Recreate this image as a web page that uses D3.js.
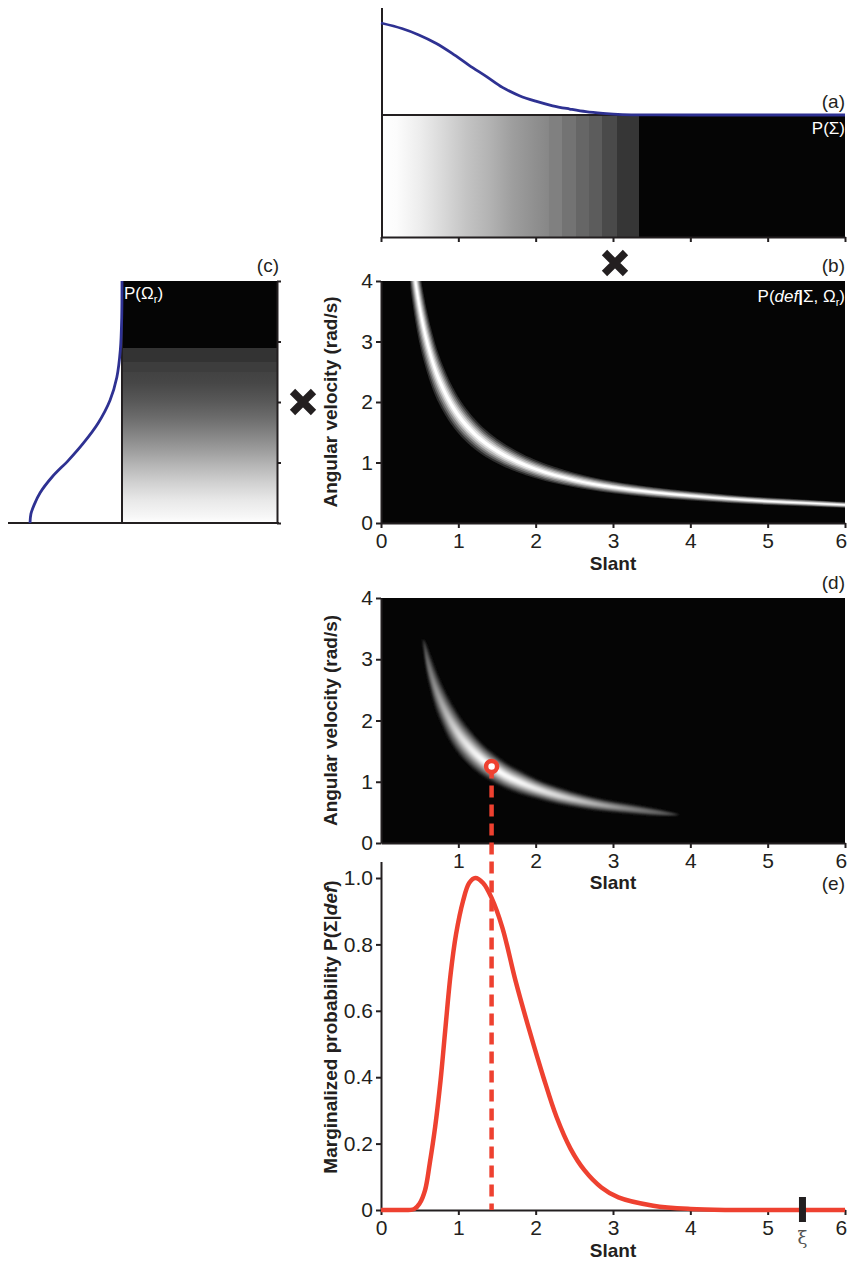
<!DOCTYPE html>
<html>
<head>
<meta charset="utf-8">
<script src="https://cdn.jsdelivr.net/npm/d3@7"></script>
<style>
  body { margin: 0; background: #ffffff; }
  svg { display: block; font-family: "Liberation Sans", Arial, Helvetica, sans-serif; }
</style>
</head>
<body>
<svg id="fig" width="847" height="1265"></svg>
<script>
// ---------- data ----------
// (a) prior over slant P(Σ)
const priorSlant  = [0, 0.27, 0.49, 0.71, 0.92, 1.14, 1.36, 1.57, 1.79, 2.0, 2.22, 2.44, 2.65, 2.87, 3.12, 3.5, 4, 5, 6];
const priorSlantP = [1.0, 0.94, 0.87, 0.78, 0.67, 0.54, 0.42, 0.30, 0.21, 0.15, 0.10, 0.065, 0.036, 0.018, 0.005, 0.001, 0, 0, 0];
// (a) image strip of P(Σ): grey level at slant stops (repeated stops give the banding)
const stripSlant  = [0, 0.2, 0.5, 0.8, 1.1, 1.4, 1.7, 2.0, 2.17, 2.17, 2.34, 2.34, 2.52, 2.52, 2.69, 2.69, 2.86, 2.86, 3.05, 3.05, 3.34, 3.34, 6];
const stripSlantG = [1, 0.99, 0.93, 0.85, 0.77, 0.7, 0.62, 0.56, 0.53, 0.5, 0.5, 0.45, 0.45, 0.4, 0.4, 0.36, 0.36, 0.29, 0.29, 0.21, 0.21, 0.02, 0.02];

// (c) prior over angular velocity P(Ωr)
const priorOmega  = [0, 0.15, 0.3, 0.5, 0.76, 1.04, 1.32, 1.65, 2.03, 2.41, 2.86, 3.4, 4];
const priorOmegaP = [1.0, 0.99, 0.955, 0.89, 0.76, 0.58, 0.42, 0.26, 0.13, 0.056, 0.018, 0.003, 0];
// (c) image strip of P(Ωr)
const stripOmega  = [0, 0.1, 0.38, 0.66, 0.93, 1.21, 1.49, 1.75, 2.03, 2.31, 2.5, 2.5, 2.66, 2.66, 2.89, 2.89, 4];
const stripOmegaG = [1, 0.97, 0.91, 0.82, 0.72, 0.61, 0.51, 0.42, 0.34, 0.28, 0.26, 0.24, 0.24, 0.2, 0.2, 0.02, 0.02];

// (b) likelihood ridge P(def|Σ, Ωr)
const ridgeSlant = [0.38, 0.42, 0.46, 0.5, 0.55, 0.6, 0.65, 0.7, 0.8, 0.9, 1.0, 1.15, 1.3, 1.5, 1.75, 2.0, 2.5, 3.0, 3.5, 4.0, 4.5, 5.0, 5.5, 6.05];
const ridgeOmega = [4.68, 4.24, 3.87, 3.56, 3.24, 2.97, 2.74, 2.54, 2.23, 1.98, 1.78, 1.55, 1.37, 1.19, 1.02, 0.89, 0.71, 0.59, 0.51, 0.45, 0.40, 0.36, 0.33, 0.295];
const ridgeSpread = 0.17;   // relative half-width of the ridge in Ωr

// (d) posterior crescent
const postSlant  = [0.54, 0.58, 0.63, 0.7, 0.8, 0.9, 1.0, 1.15, 1.3, 1.45, 1.6, 1.8, 2.0, 2.3, 2.6, 2.9, 3.2, 3.5, 3.7, 3.86];
const postOmega  = [3.33, 3.07, 2.83, 2.54, 2.23, 1.98, 1.78, 1.55, 1.37, 1.23, 1.11, 0.99, 0.89, 0.77, 0.68, 0.61, 0.56, 0.51, 0.48, 0.46];
const postSpread = [0, 0.07, 0.1, 0.13, 0.15, 0.17, 0.18, 0.19, 0.19, 0.19, 0.19, 0.19, 0.18, 0.18, 0.17, 0.16, 0.15, 0.13, 0.09, 0];
const postPeak   = [0.3, 0.42, 0.5, 0.58, 0.68, 0.77, 0.85, 0.93, 0.98, 1.0, 0.99, 0.97, 0.93, 0.86, 0.77, 0.67, 0.56, 0.46, 0.38, 0.3];
const mapSlant = 1.43, mapOmega = 1.25;   // maximum a posteriori estimate

// (e) marginalized probability P(Σ|def)
const margSlant = [0, 0.2, 0.43, 0.5, 0.57, 0.63, 0.7, 0.77, 0.83, 0.9, 0.97, 1.06, 1.14, 1.22, 1.32, 1.43, 1.57, 1.74, 1.92, 2.1, 2.27, 2.45, 2.63, 2.85, 3.07, 3.52, 4.0, 4.5, 5.0, 5.5, 6.0];
const margP     = [0, 0, 0.003, 0.02, 0.06, 0.14, 0.25, 0.39, 0.54, 0.71, 0.83, 0.93, 0.985, 1.0, 0.985, 0.94, 0.85, 0.69, 0.54, 0.40, 0.28, 0.185, 0.12, 0.068, 0.038, 0.013, 0.003, 0, 0, 0, 0];
const xiSlant = 5.45;

const slantTicks = [0, 1, 2, 3, 4, 5, 6];
const omegaTicks = [0, 1, 2, 3, 4];
const probTicks  = [0, 0.2, 0.4, 0.6, 0.8, 1.0];

// ---------- setup ----------
const INK = "#231f20", BLACK = "#050505", BLUE = "#2e3192", RED = "#ee4130";
const TICK_FONT = 21, TITLE_FONT = 19, TAG_FONT = 19, INSET_FONT = 17;
const grey = v => { const c = Math.round(255 * v); return d3.rgb(c, c, c).formatHex(); };
const smooth = d3.curveCatmullRom.alpha(0.5);

const svg = d3.select("#fig");
const defs = svg.append("defs");

const x  = d3.scaleLinear([0, 6], [381, 845]);
const yB = d3.scaleLinear([0, 4], [523, 281]);
const yD = d3.scaleLinear([0, 4], [843, 598]);
const yE = d3.scaleLinear([0, 1.05], [1210, 861.4]);
const pA = d3.scaleLinear([0, 1], [115, 23]);
const pC = d3.scaleLinear([0, 1], [122, 30]);

function styleAxis(g) {
  g.attr("font-size", null).attr("font-family", null);
  g.select(".domain").attr("stroke", INK).attr("stroke-width", 2);
  g.selectAll(".tick line").attr("stroke", INK).attr("stroke-width", 2);
  g.selectAll(".tick text").attr("fill", INK).style("font-size", TICK_FONT + "px");
  // keep the last slant label inside the page edge
  g.selectAll(".tick text").filter(d => d === 6).attr("dx", "-0.2em");
}
function label(txt, px, py, opts) {
  const o = Object.assign({anchor: "end", size: TAG_FONT, fill: INK, weight: "normal"}, opts || {});
  return svg.append("text").attr("x", px).attr("y", py).attr("text-anchor", o.anchor)
    .attr("fill", o.fill).attr("font-weight", o.weight).style("font-size", o.size + "px").text(txt);
}
function crossMark(cx, cy) {
  svg.append("path").attr("d", "M-10.5,-10.5L10.5,10.5M10.5,-10.5L-10.5,10.5")
    .attr("transform", `translate(${cx},${cy})`).attr("stroke", INK).attr("stroke-width", 7.5).attr("fill", "none");
}
const blur = (id, sd) => defs.append("filter").attr("id", id).attr("x", "-10%").attr("y", "-10%")
  .attr("width", "120%").attr("height", "120%").append("feGaussianBlur").attr("stdDeviation", sd);
blur("soft", 0.6);
blur("softer", 1.3);

// ---------- (a) prior over slant ----------
const gA = defs.append("linearGradient").attr("id", "stripA").attr("gradientUnits", "userSpaceOnUse")
  .attr("x1", x(0)).attr("x2", x(6)).attr("y1", 0).attr("y2", 0);
gA.selectAll("stop").data(d3.zip(stripSlant, stripSlantG)).join("stop")
  .attr("offset", d => (x(d[0]) - x(0)) / (x(6) - x(0)))
  .attr("stop-color", d => grey(d[1]));

svg.append("rect").attr("x", x(0)).attr("y", 116).attr("width", x(6) - x(0)).attr("height", 121)
  .attr("fill", "url(#stripA)");
svg.append("line").attr("x1", x(0)).attr("x2", x(6)).attr("y1", pA(0)).attr("y2", pA(0))
  .attr("stroke", INK).attr("stroke-width", 2);
svg.append("line").attr("x1", 382).attr("x2", 382).attr("y1", 8).attr("y2", 237)
  .attr("stroke", INK).attr("stroke-width", 2);
svg.append("g").attr("transform", "translate(0,237)")
  .call(d3.axisBottom(x).tickValues(slantTicks).tickSize(5).tickSizeOuter(0).tickFormat(""))
  .call(styleAxis);
svg.append("path").datum(d3.zip(priorSlant, priorSlantP))
  .attr("d", d3.line().x(d => x(d[0])).y(d => pA(d[1])).curve(smooth))
  .attr("fill", "none").attr("stroke", BLUE).attr("stroke-width", 2.8);
label("(a)", 845, 108);
label("P(Σ)", 845, 134, {fill: "#ffffff", size: INSET_FONT});

crossMark(615, 263);

// ---------- (c) prior over angular velocity ----------
const gC = defs.append("linearGradient").attr("id", "stripC").attr("gradientUnits", "userSpaceOnUse")
  .attr("x1", 0).attr("x2", 0).attr("y1", yB(0)).attr("y2", yB(4));
gC.selectAll("stop").data(d3.zip(stripOmega, stripOmegaG)).join("stop")
  .attr("offset", d => (yB(0) - yB(d[0])) / (yB(0) - yB(4)))
  .attr("stop-color", d => grey(d[1]));

svg.append("rect").attr("x", 122).attr("y", yB(4)).attr("width", 155).attr("height", yB(0) - yB(4))
  .attr("fill", "url(#stripC)");
svg.append("line").attr("x1", 122).attr("x2", 122).attr("y1", yB(4)).attr("y2", yB(0))
  .attr("stroke", INK).attr("stroke-width", 2);
svg.append("g").attr("transform", "translate(277,0)")
  .call(d3.axisRight(yB).tickValues(omegaTicks).tickSize(4).tickSizeOuter(0).tickFormat(""))
  .call(styleAxis);
svg.append("line").attr("x1", 8).attr("x2", 279).attr("y1", yB(0)).attr("y2", yB(0))
  .attr("stroke", INK).attr("stroke-width", 2);
svg.append("path").datum(d3.zip(priorOmega, priorOmegaP))
  .attr("d", d3.line().x(d => pC(d[1])).y(d => yB(d[0])).curve(smooth))
  .attr("fill", "none").attr("stroke", BLUE).attr("stroke-width", 2.8);
label("(c)", 279, 272);
const tC = svg.append("text").attr("x", 124).attr("y", 299).attr("fill", "#ffffff").style("font-size", INSET_FONT + "px");
tC.append("tspan").text("P(Ω");
tC.append("tspan").attr("dy", 4).style("font-size", "11px").text("r");
tC.append("tspan").attr("dy", -4).text(")");

crossMark(303, 402);

// ---------- (b) likelihood ----------
const bandLayers = [
  {f: 1.0, g: 0.18}, {f: 0.82, g: 0.36}, {f: 0.65, g: 0.54},
  {f: 0.48, g: 0.72}, {f: 0.32, g: 0.88}, {f: 0.16, g: 1.0}
];
defs.append("clipPath").attr("id", "clipB").append("rect")
  .attr("x", x(0)).attr("y", yB(4)).attr("width", x(6) - x(0)).attr("height", yB(0) - yB(4));
svg.append("rect").attr("x", x(0)).attr("y", yB(4)).attr("width", x(6) - x(0)).attr("height", yB(0) - yB(4))
  .attr("fill", BLACK);
const ridge = d3.zip(ridgeSlant, ridgeOmega);
svg.append("g").attr("clip-path", "url(#clipB)").append("g").attr("filter", "url(#soft)")
  .selectAll("path").data(bandLayers).join("path")
  .attr("d", L => d3.area().x(d => x(d[0]))
      .y0(d => yB(d[1] * (1 - ridgeSpread * L.f)))
      .y1(d => yB(d[1] * (1 + ridgeSpread * L.f)))
      .curve(d3.curveMonotoneX)(ridge))
  .attr("fill", L => grey(L.g));

svg.append("g").attr("transform", `translate(${x(0)},0)`)
  .call(d3.axisLeft(yB).tickValues(omegaTicks).tickSize(5).tickPadding(3).tickSizeOuter(0).tickFormat(d3.format("d")))
  .call(styleAxis);
svg.append("g").attr("transform", `translate(0,${yB(0)})`)
  .call(d3.axisBottom(x).tickValues(slantTicks).tickSize(5).tickPadding(5).tickSizeOuter(0).tickFormat(d3.format("d")))
  .call(styleAxis);
label("Slant", x(3), 570, {anchor: "middle", weight: "bold", size: TITLE_FONT});
svg.append("text").attr("transform", `translate(337,${(yB(0) + yB(4)) / 2}) rotate(-90)`)
  .attr("text-anchor", "middle").attr("font-weight", "bold").attr("fill", INK).style("font-size", TITLE_FONT + "px")
  .text("Angular velocity (rad/s)");
label("(b)", 845, 272);
const tB = svg.append("text").attr("x", 845).attr("y", 302).attr("text-anchor", "end")
  .attr("fill", "#ffffff").style("font-size", INSET_FONT + "px");
tB.append("tspan").text("P(");
tB.append("tspan").attr("font-style", "italic").text("def");
tB.append("tspan").attr("font-weight", "bold").text("|");
tB.append("tspan").text("Σ, Ω");
tB.append("tspan").attr("dy", 4).style("font-size", "11px").text("r");
tB.append("tspan").attr("dy", -4).text(")");

// ---------- (d) posterior ----------
defs.append("clipPath").attr("id", "clipD").append("rect")
  .attr("x", x(0)).attr("y", yD(4)).attr("width", x(6) - x(0)).attr("height", yD(0) - yD(4));
svg.append("rect").attr("x", x(0)).attr("y", yD(4)).attr("width", x(6) - x(0)).attr("height", yD(0) - yD(4))
  .attr("fill", BLACK);
const post = postSlant.map((s, i) => ({s, w: postOmega[i], k: postSpread[i], p: postPeak[i]}));
const postX0 = x(postSlant[0]), postX1 = x(postSlant[postSlant.length - 1]);
bandLayers.forEach((L, j) => {
  const gr = defs.append("linearGradient").attr("id", "post" + j).attr("gradientUnits", "userSpaceOnUse")
    .attr("x1", postX0).attr("x2", postX1).attr("y1", 0).attr("y2", 0);
  gr.selectAll("stop").data(post).join("stop")
    .attr("offset", d => (x(d.s) - postX0) / (postX1 - postX0))
    .attr("stop-color", d => grey(d.p * L.g));
});
svg.append("g").attr("clip-path", "url(#clipD)").append("g").attr("filter", "url(#softer)")
  .selectAll("path").data(bandLayers).join("path")
  .attr("d", L => d3.area().x(d => x(d.s))
      .y0(d => yD(d.w * (1 - d.k * L.f)))
      .y1(d => yD(d.w * (1 + d.k * L.f)))
      .curve(d3.curveMonotoneX)(post))
  .attr("fill", (L, j) => `url(#post${j})`);

svg.append("g").attr("transform", `translate(${x(0)},0)`)
  .call(d3.axisLeft(yD).tickValues(omegaTicks).tickSize(5).tickPadding(3).tickSizeOuter(0).tickFormat(d3.format("d")))
  .call(styleAxis);
svg.append("g").attr("transform", `translate(0,${yD(0)})`)
  .call(d3.axisBottom(x).tickValues(slantTicks.slice(1)).tickSize(5).tickPadding(5).tickSizeOuter(0).tickFormat(d3.format("d")))
  .call(styleAxis);
label("Slant", x(3), 889, {anchor: "middle", weight: "bold", size: TITLE_FONT});
svg.append("text").attr("transform", `translate(337,${(yD(0) + yD(4)) / 2}) rotate(-90)`)
  .attr("text-anchor", "middle").attr("font-weight", "bold").attr("fill", INK).style("font-size", TITLE_FONT + "px")
  .text("Angular velocity (rad/s)");
label("(d)", 845, 589);

// ---------- (e) marginal over slant ----------
svg.append("g").attr("transform", `translate(${x(0)},0)`)
  .call(d3.axisLeft(yE).tickValues(probTicks).tickSize(5).tickPadding(3).tickSizeOuter(0)
    .tickFormat(d => d === 0 ? "0" : d3.format(".1f")(d)))
  .call(styleAxis);
svg.append("g").attr("transform", `translate(0,${yE(0)})`)
  .call(d3.axisBottom(x).tickValues(slantTicks).tickSize(5).tickPadding(5).tickSizeOuter(0).tickFormat(d3.format("d")))
  .call(styleAxis);
label("Slant", x(3), 1257, {anchor: "middle", weight: "bold", size: TITLE_FONT});
const tE = svg.append("text").attr("transform", `translate(337,1027) rotate(-90)`)
  .attr("text-anchor", "middle").attr("font-weight", "bold").attr("fill", INK).style("font-size", TITLE_FONT + "px");
tE.append("tspan").text("Marginalized probability P(Σ|");
tE.append("tspan").attr("font-style", "italic").text("def");
tE.append("tspan").text(")");
label("(e)", 845, 890);

// dashed projection from the MAP estimate down to the slant axis
svg.append("line").attr("x1", x(mapSlant)).attr("x2", x(mapSlant))
  .attr("y1", yD(mapOmega)).attr("y2", yE(0))
  .attr("stroke", RED).attr("stroke-width", 4.5).attr("stroke-dasharray", "12,7");

svg.append("path").datum(d3.zip(margSlant, margP))
  .attr("d", d3.line().x(d => x(d[0])).y(d => yE(d[1])).curve(smooth))
  .attr("fill", "none").attr("stroke", RED).attr("stroke-width", 4.5).attr("stroke-linejoin", "round");

svg.append("circle").attr("cx", x(mapSlant)).attr("cy", yD(mapOmega)).attr("r", 5.5)
  .attr("fill", "#ffffff").attr("stroke", RED).attr("stroke-width", 4.5);

// true slant ξ
svg.append("rect").attr("x", x(xiSlant) - 3.5).attr("y", yE(0) - 13).attr("width", 7).attr("height", 25).attr("fill", INK);
svg.append("text").attr("x", x(xiSlant)).attr("y", 1244).attr("text-anchor", "middle")
  .attr("fill", "#555555").style("font-family", "'DejaVu Serif', 'Liberation Serif', serif").style("font-size", "18px")
  .text("ξ");
</script>
</body>
</html>
